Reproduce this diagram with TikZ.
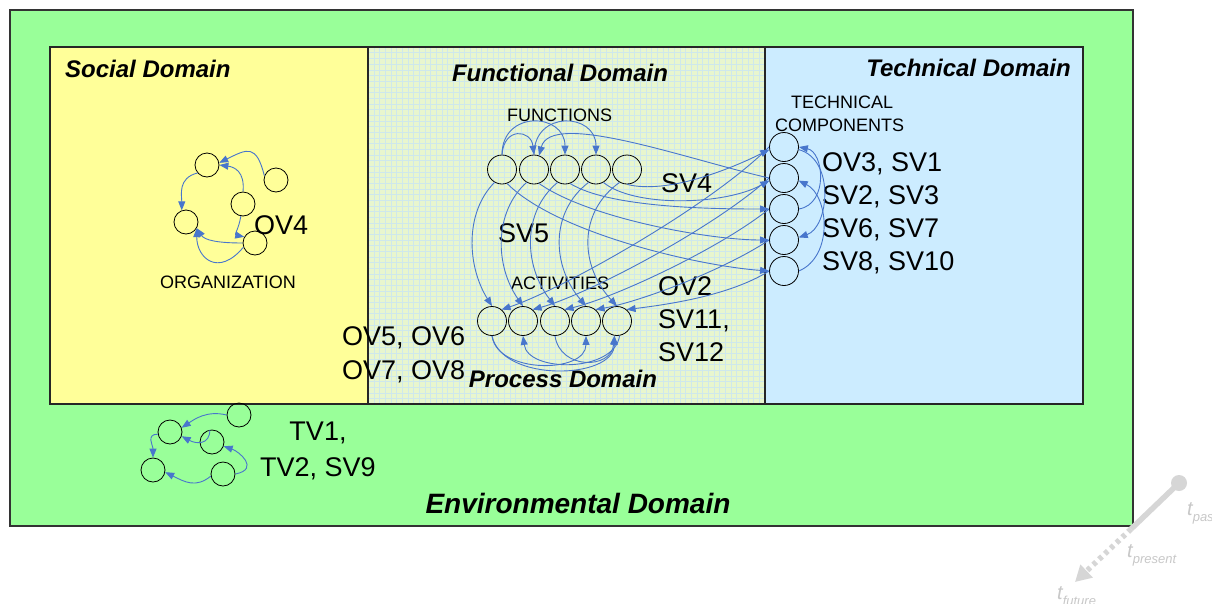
\documentclass[tikz,border=0pt]{standalone}
\usepackage{fontspec}
\setmainfont{Liberation Sans}
\usetikzlibrary{arrows.meta}
\definecolor{envgreen}{RGB}{153,255,153}
\definecolor{socyellow}{RGB}{255,255,153}
\definecolor{techblue}{RGB}{204,236,255}
\definecolor{funcbg}{RGB}{232,246,206}
\definecolor{gridblue}{RGB}{206,232,236}
\definecolor{conblue}{RGB}{72,118,204}
\definecolor{tgray}{RGB}{214,214,214}
\definecolor{tlgray}{RGB}{200,200,200}
\newcommand{\tlab}[1]{t\raisebox{-6pt}{\fontsize{13}{14}\selectfont #1}}
\begin{document}
\begin{tikzpicture}[x=1pt,y=-1pt,
  dombox/.style={draw=black!85, line width=1.1pt},
  bignd/.style={circle, draw=black, line width=0.8pt, minimum size=29pt, inner sep=0pt},
  smnd/.style={circle, draw=black, line width=0.8pt, minimum size=24pt, inner sep=0pt},
  con/.style={draw=conblue, line width=0.9pt, -{Triangle[length=9pt,width=7pt]}},
  ttl/.style={inner sep=0pt, font=\bfseries\itshape\fontsize{24}{28}\selectfont},
  big/.style={inner sep=0pt, font=\fontsize{27}{33}\selectfont},
  sml/.style={inner sep=0pt, font=\fontsize{18}{22}\selectfont},
  tl/.style={inner sep=0pt, text=tlgray, font=\itshape\fontsize{20}{24}\selectfont}]
\useasboundingbox (0,0) rectangle (1212,603);
\fill[white] (0,0) rectangle (1212,603);
% environment
\filldraw[fill=envgreen, draw=black!80, line width=1.1pt] (10,10) rectangle (1133,526);
% domains
\fill[socyellow] (50,47) rectangle (368,404);
\fill[funcbg] (368,47) rectangle (765,404);
\foreach \i in {1,...,70} \draw[gridblue, line width=0.35pt] ({368+\i*5.67},47) -- ++(0,357);
\foreach \j in {1,...,62} \draw[gridblue, line width=0.35pt] (368,{47+\j*5.67}) -- ++(397,0);
\fill[techblue] (765,47) rectangle (1083,404);
\draw[dombox] (50,47) rectangle (368,404);
\draw[dombox] (368,47) rectangle (765,404);
\draw[dombox] (765,47) rectangle (1083,404);

% titles
\node[ttl, anchor=base west] (tsoc) at (65,77) {Social Domain};
\node[ttl, anchor=base] (tfun) at (560,81) {Functional Domain};
\node[ttl, anchor=base east] (ttec) at (1071,76) {Technical Domain};
\node[ttl, anchor=base] (tpro) at (563,387) {Process Domain};
\node[inner sep=0pt, font=\bfseries\itshape\fontsize{28}{32}\selectfont, anchor=base] (tenv) at (578,513) {Environmental Domain};

% labels
\node[big, anchor=base west] (lov4) at (254,234) {OV4};
\node[sml, anchor=base west] (lorg) at (160,288) {ORGANIZATION};
\node[sml, anchor=base west] (lfun) at (507,121) {FUNCTIONS};
\node[sml, anchor=base west] (lact) at (511,289) {ACTIVITIES};
\node[sml, anchor=base west] (ltec1) at (791,108) {TECHNICAL};
\node[sml, anchor=base west] (ltec2) at (775,131) {COMPONENTS};
\node[big, anchor=base west] (lsv4) at (661,192) {SV4};
\node[big, anchor=base west] (lsv5) at (498,242) {SV5};
\node[big, anchor=base west] (lov2) at (658,295) {OV2};
\node[big, anchor=base west] (lsv11) at (658,328) {SV11,};
\node[big, anchor=base west] (lsv12) at (658,361) {SV12};
\node[big, anchor=base west] (lov5) at (342,345) {OV5, OV6};
\node[big, anchor=base west] (lov7) at (342,379) {OV7, OV8};
\node[big, anchor=base west] (lt1) at (822,171) {OV3, SV1};
\node[big, anchor=base west] (lt2) at (822,204) {SV2, SV3};
\node[big, anchor=base west] (lt3) at (822,237) {SV6, SV7};
\node[big, anchor=base west] (lt4) at (822,270) {SV8, SV10};
\node[big, anchor=base] (ltv1) at (318,440) {TV1,};
\node[big, anchor=base] (ltv2) at (318,476) {TV2, SV9};

% organization nodes
\node[smnd] (c1) at (207,165) {};
\node[smnd] (c2) at (276,180) {};
\node[smnd] (c3) at (243,204) {};
\node[smnd] (c4) at (186,222) {};
\node[smnd] (c5) at (255,243) {};
% environment nodes
\node[smnd] (e1) at (239,415) {};
\node[smnd] (e2) at (170,432) {};
\node[smnd] (e3) at (212,442) {};
\node[smnd] (e4) at (153,470) {};
\node[smnd] (e5) at (223,474) {};
% functions
\node[bignd] (F1) at (502,169.5) {};
\node[bignd] (F2) at (534,169.5) {};
\node[bignd] (F3) at (565,169.5) {};
\node[bignd] (F4) at (596,169.5) {};
\node[bignd] (F5) at (627,169.5) {};
% activities
\node[bignd] (A1) at (492,321) {};
\node[bignd] (A2) at (523,321) {};
\node[bignd] (A3) at (555,321) {};
\node[bignd] (A4) at (586,321) {};
\node[bignd] (A5) at (617,321) {};
% technical components
\node[bignd] (T1) at (784,147) {};
\node[bignd] (T2) at (784,178) {};
\node[bignd] (T3) at (784,209) {};
\node[bignd] (T4) at (784,240) {};
\node[bignd] (T5) at (784,271) {};

% organization connectors
\draw[con] (c2.160) .. controls +(-8,-32) and +(28,-14) .. (c1.10);
\draw[con] (c3.north) .. controls +(2,-20) and +(15,2) .. (c1.0);
\draw[con] (c1.220) .. controls +(-20,5) and +(0,-15) .. (c4.110);
\draw[con] (c3.260) .. controls +(-2,12) and +(-10,-2) .. (c5.150);
\draw[con] (c5.180) .. controls +(-25,0) and +(8,12) .. (c4.330);
\draw[con] (c5.200) .. controls +(-25,30) and +(0,30) .. (c4.330);

% environment connectors
\draw[con] (e1.west) .. controls +(-20,-5) and +(12,-8) .. (e2.20);
\draw[con] (e3.100) .. controls +(0,15) and +(15,8) .. (e2.-20);
\draw[con] (e2.190) .. controls +(-12,0) and +(0,-12) .. (e4.north);
\draw[con] (e5.190) .. controls +(-15,12) and +(20,10) .. (e4.-10);
\draw[con] (e5.east) .. controls +(25,-5) and +(15,5) .. (e3.-20);

% technical right-side connectors
\draw[con] (T3.east) .. controls +(30,-5) and +(25,5) .. (T1.east);
\draw[con] (T1.-10) .. controls +(37,10) and +(30,-10) .. (T4.10);
\draw[con] (T5.east) .. controls +(35,-15) and +(30,15) .. (T2.-10);

% function top connectors
\draw[con] (F1.north) .. controls +(2,-28) and +(-3,-25) .. (F2.north);
\draw[con] (F1.north) .. controls +(0,-45) and +(0,-42) .. (F3.north);
\draw[con] (F2.north) .. controls +(0,-45) and +(0,-42) .. (F4.north);
\draw[con] (T2.180) .. controls +(-80,-18) and +(12,-46) .. (F2.70);

% functions to technical components
\draw[con] (F5.south) .. controls +(40,10) and +(-40,20) .. (T1.190);
\draw[con] (F4.-60) .. controls +(30,25) and +(-45,25) .. (T2.190);
\draw[con] (F3.-70) .. controls +(40,25) and +(-50,0) .. (T3.west);
\draw[con] (F2.-70) .. controls +(50,35) and +(-60,0) .. (T4.west);
\draw[con] (F1.-70) .. controls +(50,50) and +(-70,-5) .. (T5.west);

% functions to activities
\foreach \i/\k in {1/0,2/1,3/2,4/3,5/4}
  \draw[con] (F\i.240) .. controls +({-30-3*\k},30) and +({-25-3*\k},-40) .. (A\i.north);

% technical components to activities
\draw[con] (T1.west) .. controls +(-60,60) and +(60,-20) .. (A1.50);
\draw[con] (T2.west) .. controls +(-55,50) and +(55,-15) .. (A2.50);
\draw[con] (T3.west) .. controls +(-50,40) and +(50,-12) .. (A3.50);
\draw[con] (T4.west) .. controls +(-45,30) and +(45,-8) .. (A4.50);
\draw[con] (T5.west) .. controls +(-40,25) and +(40,-5) .. (A5.50);

% activity bottom connectors
\draw[con] (A1.south) .. controls +(5,38) and +(0,38) .. (A4.south);
\draw[con] (A1.south) .. controls +(10,47) and +(0,44) .. (A5.-100);
\draw[con] (A3.south) .. controls +(5,34) and +(-3,34) .. (A5.-100);
\draw[con] (A5.-80) .. controls +(-5,37) and +(5,37) .. (A2.south);

% time arrow
\node[circle, fill=tgray, minimum size=16pt, inner sep=0pt] (tpast) at (1179,483) {};
\coordinate (tnow) at (1131,529);
\coordinate (tfut) at (1075,582);
\draw[tgray, line width=5.5pt] (tpast.center) -- (tnow);
\draw[tgray, line width=5.5pt, dash pattern=on 4pt off 4pt, -{Triangle[length=16pt,width=17pt]}] (tnow) -- (tfut);
\node[tl, anchor=base west] (lpast) at (1187,515) {\tlab{past}};
\node[tl, anchor=base west] (lpres) at (1127,557) {\tlab{present}};
\node[tl, anchor=base west] (lfut) at (1057,599) {\tlab{future}};
\end{tikzpicture}
\end{document}
